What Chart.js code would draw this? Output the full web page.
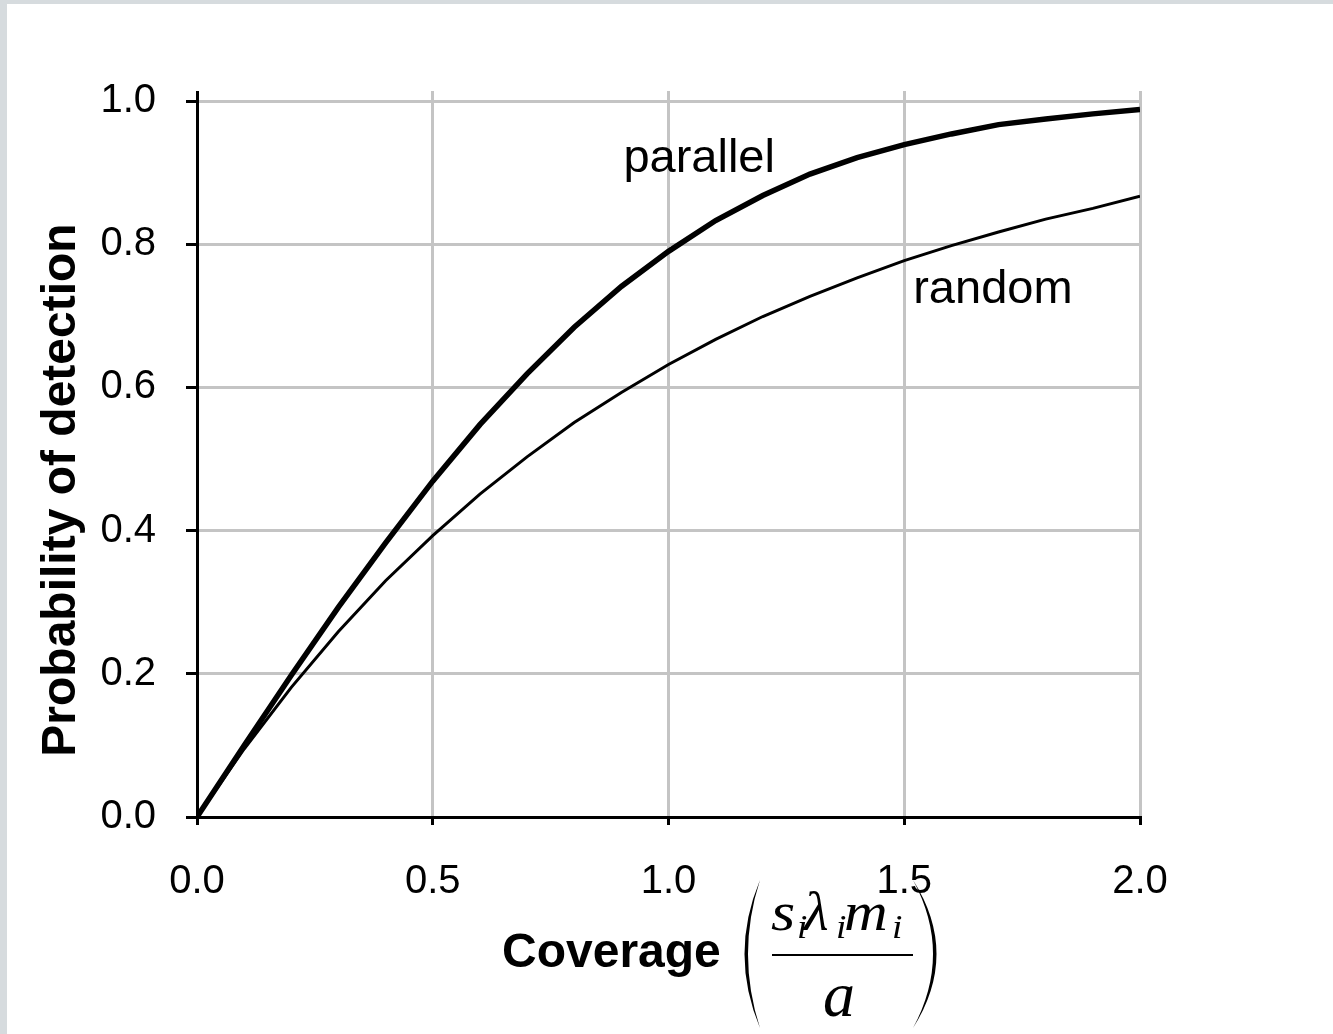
<!DOCTYPE html>
<html>
<head>
<meta charset="utf-8">
<script src="https://cdn.jsdelivr.net/npm/chart.js@4.4.1/dist/chart.umd.min.js"></script>
<style>
  html, body { margin: 0; padding: 0; background: #d6dbde; overflow: hidden; }
  #wrap { position: absolute; left: 7px; top: 4px; width: 1326px; height: 1030px; background: #fff; }
</style>
</head>
<body>
<div id="wrap"><canvas id="detectionChart" width="1326" height="1030"></canvas></div>
<script>
// coverage values along the x axis
const coverage = [0, 0.1, 0.2, 0.3, 0.4, 0.5, 0.6, 0.7, 0.8, 0.9, 1.0,
                  1.1, 1.2, 1.3, 1.4, 1.5, 1.6, 1.7, 1.8, 1.9, 2.0];
// probability of detection, parallel sweeps
const parallelPd = [0, 0.100, 0.198, 0.293, 0.383, 0.469, 0.548, 0.619, 0.684, 0.741, 0.790,
                    0.833, 0.868, 0.898, 0.921, 0.939, 0.954, 0.967, 0.975, 0.982, 0.988];
// probability of detection, random search
const randomPd = [0, 0.095, 0.181, 0.259, 0.330, 0.393, 0.451, 0.503, 0.551, 0.593, 0.632,
                  0.667, 0.699, 0.727, 0.753, 0.777, 0.798, 0.817, 0.835, 0.850, 0.867];

const seriesNames = ['parallel', 'random'];
// where each curve name sits, in data units [coverage, probability]
const nameAnchors = [[1.065, 0.901], [1.688, 0.718]];

const xMin = 0, xMax = 2, xStep = 0.5;
const yMin = 0, yMax = 1, yStep = 0.2;

const GRID = '#c4c4c4';
const INK = '#000';
const SANS = '"Liberation Sans", Arial, sans-serif';
const SERIF = '"Liberation Serif", "Times New Roman", serif';

const toPoints = ys => coverage.map((x, i) => ({ x: x, y: ys[i] }));

const gridColor = ctx => (ctx.tick && ctx.tick.value === 0) ? 'rgba(0,0,0,0)' : GRID;

// axis titles, the coverage fraction and the curve names
const annotations = {
  id: 'annotations',
  afterDraw(chart) {
    const ctx = chart.ctx;
    const area = chart.chartArea;
    const xs = chart.scales.x, ys = chart.scales.y;
    ctx.save();
    ctx.fillStyle = INK;

    // curve names
    ctx.font = '47px ' + SANS;
    ctx.textAlign = 'center';
    ctx.textBaseline = 'alphabetic';
    seriesNames.forEach((name, i) => {
      const [vx, vy] = nameAnchors[i];
      ctx.fillText(name, xs.getPixelForValue(vx), ys.getPixelForValue(vy));
    });

    // y title
    ctx.save();
    ctx.translate(55, area.top + 389);
    ctx.rotate(-Math.PI / 2);
    ctx.font = 'bold 48px ' + SANS;
    ctx.textAlign = 'center';
    ctx.textBaseline = 'middle';
    ctx.fillText('Probability of detection', 0, 0);
    ctx.restore();

    // x title
    const b = area.bottom;
    ctx.textAlign = 'left';
    ctx.textBaseline = 'alphabetic';
    ctx.font = 'bold 48px ' + SANS;
    ctx.fillText('Coverage', 495, b + 150);

    // thin parentheses round the fraction
    const paren = (xEnd, xBulge) => {
      const top = b + 63, bot = b + 211, mid = (top + bot) / 2;
      const dir = xBulge < xEnd ? 1 : -1;
      ctx.beginPath();
      ctx.moveTo(xEnd, top);
      ctx.quadraticCurveTo(xBulge, mid, xEnd, bot);
      ctx.quadraticCurveTo(xBulge + dir * 7, mid, xEnd, top);
      ctx.closePath();
      ctx.fill();
    };
    paren(753, 722);
    paren(906, 953);

    // numerator s_i λ_i m_i
    const glyph = (txt, x, y, size, sx) => {
      ctx.save();
      ctx.translate(x, y);
      ctx.scale(sx, 1);
      ctx.font = 'italic ' + size + 'px ' + SERIF;
      ctx.fillText(txt, 0, 0);
      ctx.restore();
    };
    const nb = b + 113;
    glyph('s', 764, nb, 54, 1.15);
    glyph('i', 790, nb + 8, 34, 1.1);
    glyph('\u03bb', 797, nb, 54, 1.05);
    glyph('i', 829, nb + 8, 34, 1.1);
    glyph('m', 837, nb, 54, 1.12);
    glyph('i', 885, nb + 8, 34, 1.1);

    // fraction bar
    ctx.fillRect(765, b + 137, 141, 2);

    // denominator
    ctx.textAlign = 'center';
    glyph('a', 832, b + 199, 64, 1);

    ctx.restore();
  }
};

new Chart(document.getElementById('detectionChart'), {
  type: 'line',
  data: {
    datasets: [
      {
        label: seriesNames[0],
        data: toPoints(parallelPd),
        borderColor: INK,
        borderWidth: 5.5,
        pointRadius: 0,
        tension: 0,
        fill: false
      },
      {
        label: seriesNames[1],
        data: toPoints(randomPd),
        borderColor: INK,
        borderWidth: 3,
        pointRadius: 0,
        tension: 0,
        fill: false
      }
    ]
  },
  options: {
    responsive: false,
    devicePixelRatio: 1,
    animation: false,
    layout: { padding: { left: 0, top: 87, right: 193, bottom: 97 } },
    plugins: {
      legend: { display: false },
      tooltip: { enabled: false },
      title: { display: false }
    },
    scales: {
      x: {
        type: 'linear',
        position: 'bottom',
        min: xMin,
        max: xMax,
        ticks: {
          stepSize: xStep,
          padding: 33,
          color: INK,
          font: { family: SANS, size: 40 },
          callback: v => v.toFixed(1)
        },
        grid: {
          color: gridColor,
          lineWidth: 3,
          tickLength: 8,
          tickWidth: 3,
          tickColor: INK
        },
        border: { color: INK, width: 3 },
        afterFit: scale => { scale.height = 120; }
      },
      xTop: {
        type: 'linear',
        position: 'top',
        min: xMin,
        max: xMax,
        ticks: { stepSize: xStep, display: false },
        grid: {
          drawOnChartArea: false,
          tickLength: 10,
          tickWidth: 3,
          tickColor: ctx => (ctx.tick && ctx.tick.value === 0) ? INK : GRID
        },
        border: { display: false },
        afterFit: scale => { scale.height = 10; }
      },
      y: {
        type: 'linear',
        min: yMin,
        max: yMax,
        ticks: {
          stepSize: yStep,
          padding: 30,
          color: INK,
          font: { family: SANS, size: 40 },
          callback: v => v.toFixed(1)
        },
        grid: {
          color: gridColor,
          lineWidth: 3,
          tickLength: 11,
          tickWidth: 3,
          tickColor: INK
        },
        border: { color: INK, width: 3 },
        afterFit: scale => { scale.width = 190; }
      }
    }
  },
  plugins: [annotations]
});
</script>
</body>
</html>
